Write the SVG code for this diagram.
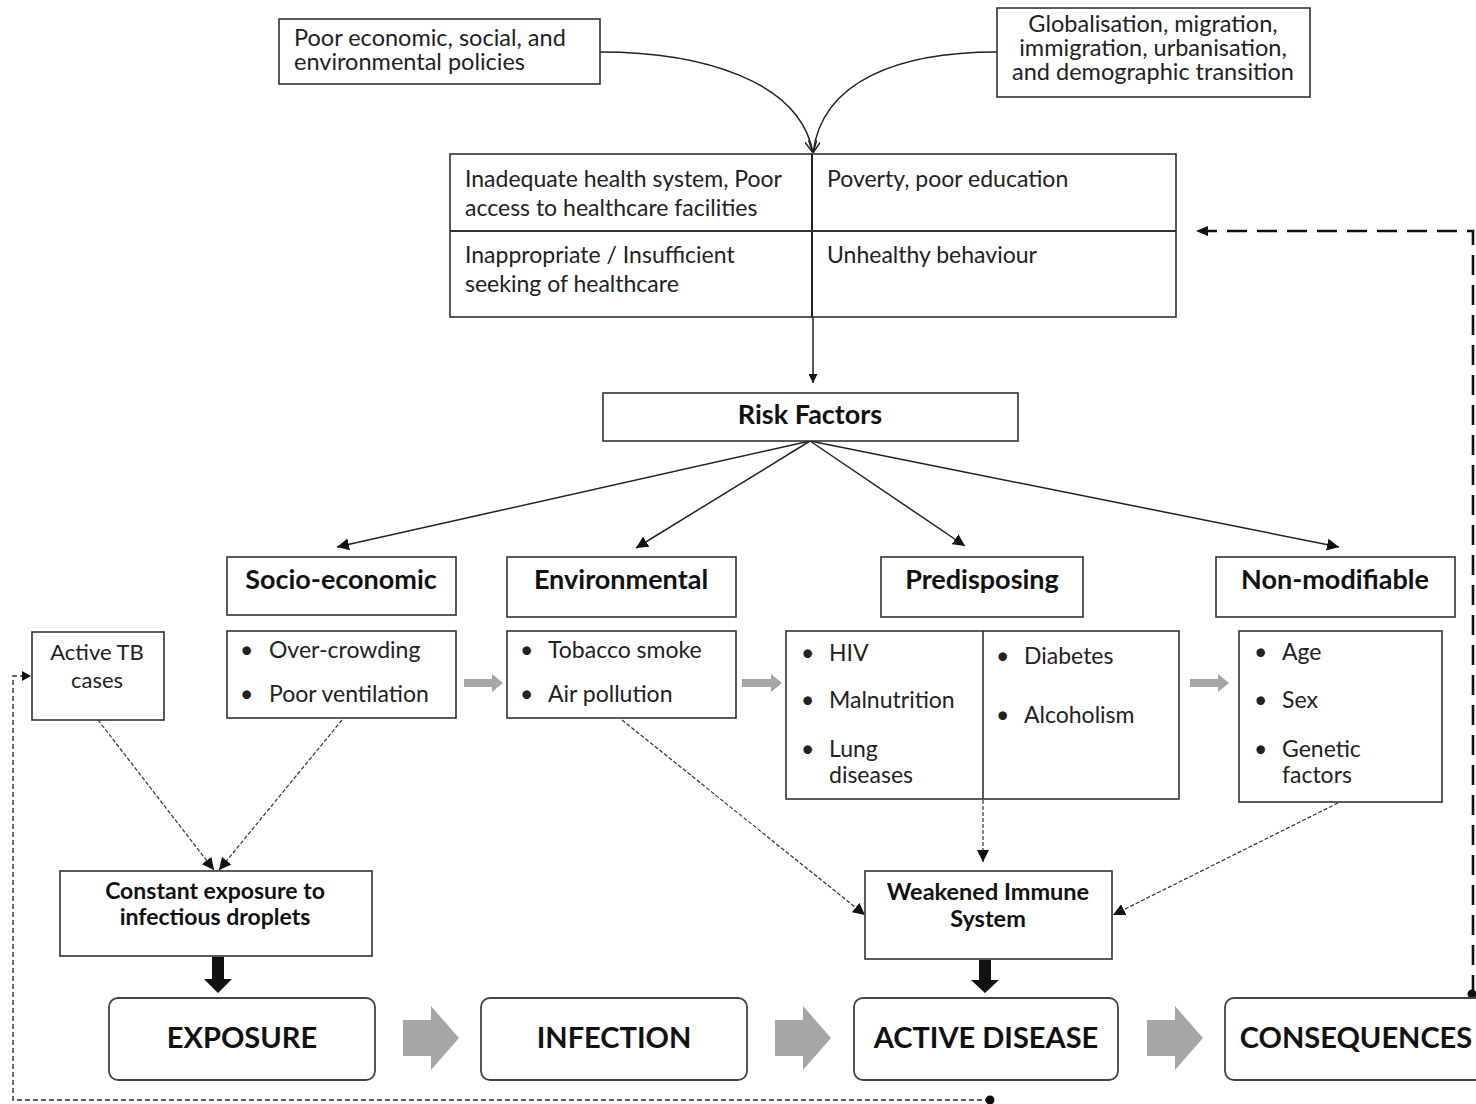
<svg xmlns="http://www.w3.org/2000/svg" width="1476" height="1104" viewBox="0 0 1476 1104">
  <style>
    .box { fill: #fff; stroke: #333; stroke-width: 1.6; }
    .rbox { fill: #fff; stroke: #444; stroke-width: 1.8; }
    .t { font-family: Lato, "Open Sans", sans-serif; font-size: 23px; fill: #222; }
    .s { font-size: 22px; }
    .top { font-size: 23.5px; }
    .c { text-anchor: middle; }
    .b { font-weight: bold; fill: #111; }
    .cat { font-family: Lato, "Open Sans", sans-serif; font-size: 27px; font-weight: bold; fill: #111; text-anchor: middle; }
    .big { font-family: Lato, "Open Sans", sans-serif; font-size: 29px; font-weight: bold; fill: #111; text-anchor: middle; }
    .line { fill: none; stroke: #222; stroke-width: 1.5; }
    .dot { fill: none; stroke: #333; stroke-width: 1.2; stroke-dasharray: 4 2; }
    .gray { fill: #a6a6a6; }
  </style>
  <defs>
    <marker id="tri" viewBox="0 0 10 10" refX="10" refY="5" markerWidth="9" markerHeight="9" markerUnits="userSpaceOnUse" orient="auto">
      <path d="M0,0 L10,5 L0,10 z" fill="#111"/>
    </marker>
    <marker id="tri2" viewBox="0 0 10 10" refX="10" refY="5" markerWidth="12" markerHeight="12" markerUnits="userSpaceOnUse" orient="auto">
      <path d="M0,0 L10,5 L0,10 z" fill="#111"/>
    </marker>
    <marker id="vee" viewBox="0 0 10 10" refX="10" refY="5" markerWidth="12" markerHeight="12" markerUnits="userSpaceOnUse" orient="auto">
      <path d="M0,0 L10,5 L0,10" fill="none" stroke="#222" stroke-width="1.2"/>
    </marker>
  </defs>

  <!-- connectors -->
  <g id="connectors">
    <path class="line" d="M600,52 C700,52 800,80 813,153" marker-end="url(#vee)"/>
    <path class="line" d="M997,52 C900,52 822,80 813,153" marker-end="url(#vee)"/>
    <line class="line" x1="813" y1="317" x2="813" y2="383" marker-end="url(#tri)"/>
    <line class="line" x1="810" y1="441" x2="337" y2="547" marker-end="url(#tri2)"/>
    <line class="line" x1="810" y1="441" x2="636" y2="548" marker-end="url(#tri2)"/>
    <line class="line" x1="810" y1="441" x2="965" y2="546" marker-end="url(#tri2)"/>
    <line class="line" x1="810" y1="441" x2="1339" y2="547" marker-end="url(#tri2)"/>
    <!-- grey block arrows between factor boxes -->
    <path class="gray" d="M464,679 h28 v-5 l11,9 l-11,9 v-5 h-28 z"/>
    <path class="gray" d="M742,679 h29 v-5 l11,9 l-11,9 v-5 h-29 z"/>
    <path class="gray" d="M1190,679 h28 v-5 l11,9 l-11,9 v-5 h-28 z"/>
    <!-- dotted influence arrows -->
    <line class="dot" x1="98" y1="720" x2="214" y2="870" marker-end="url(#tri2)"/>
    <line class="dot" x1="342" y1="720" x2="219" y2="870" marker-end="url(#tri2)"/>
    <line class="dot" x1="622" y1="720" x2="865" y2="915" marker-end="url(#tri2)"/>
    <line class="dot" x1="983" y1="800" x2="983" y2="862" marker-end="url(#tri2)"/>
    <line class="dot" x1="1338" y1="803" x2="1113" y2="915" marker-end="url(#tri2)"/>
    <!-- thick black arrows -->
    <path d="M212,957 h12 v22 h8 l-14,14 l-14,-14 h8 z" fill="#111"/>
    <path d="M979,960 h12 v20 h8 l-14,13 l-14,-13 h8 z" fill="#111"/>
    <!-- grey block arrows between stages -->
    <path class="gray" d="M403,1020 h28 v-14 l28,32 l-28,32 v-14 h-28 z"/>
    <path class="gray" d="M775,1020 h28 v-14 l28,32 l-28,32 v-14 h-28 z"/>
    <path class="gray" d="M1147,1020 h28 v-14 l28,32 l-28,32 v-14 h-28 z"/>
    <!-- feedback loops -->
    <path d="M1473,995 V231 H1208" fill="none" stroke="#111" stroke-width="2.6" stroke-dasharray="20 10"/>
    <path d="M1196,231 l12,-5 v10 z" fill="#111"/>
    <circle cx="1472" cy="994" r="4.5" fill="#111"/>
    <path d="M990,1100 H13 V676 H23" fill="none" stroke="#333" stroke-width="1.4" stroke-dasharray="5 3"/>
    <path d="M31,676 l-9,-5 v10 z" fill="#111"/>
    <circle cx="990" cy="1100" r="4.5" fill="#111"/>
  </g>

  <g id="policies">
    <rect class="box" x="279" y="19" width="321" height="65"/>
    <text class="t top" x="294" y="46">Poor economic, social, and</text>
    <text class="t top" x="294" y="70">environmental policies</text>
  </g>

  <g id="globalisation">
    <rect class="box" x="997" y="8" width="313" height="89"/>
    <text class="t top c" x="1153" y="32">Globalisation, migration,</text>
    <text class="t top c" x="1153" y="56">immigration, urbanisation,</text>
    <text class="t top c" x="1153" y="80">and demographic transition</text>
  </g>

  <g id="determinants">
    <rect class="box" x="450" y="154" width="726" height="163" stroke-width="2"/>
    <line x1="812" y1="154" x2="812" y2="317" stroke="#222" stroke-width="2"/>
    <line x1="450" y1="231" x2="1176" y2="231" stroke="#333" stroke-width="2"/>
    <text class="t" x="465" y="187">Inadequate health system, Poor</text>
    <text class="t" x="465" y="216">access to healthcare facilities</text>
    <text class="t" x="827" y="187">Poverty, poor education</text>
    <text class="t" x="465" y="263">Inappropriate / Insufficient</text>
    <text class="t" x="465" y="292">seeking of healthcare</text>
    <text class="t" x="827" y="263">Unhealthy behaviour</text>
  </g>

  <g id="risk-factors">
    <rect class="box" x="603" y="393" width="415" height="48"/>
    <text class="cat" x="810" y="424">Risk Factors</text>
  </g>

  <g id="socio-economic">
    <rect class="box" x="227" y="557" width="229" height="58"/>
    <text class="cat" x="341" y="589">Socio-economic</text>
  </g>
  <g id="environmental">
    <rect class="box" x="507" y="557" width="229" height="60"/>
    <text class="cat" x="621" y="589">Environmental</text>
  </g>
  <g id="predisposing">
    <rect class="box" x="881" y="557" width="202" height="60"/>
    <text class="cat" x="982" y="589">Predisposing</text>
  </g>
  <g id="non-modifiable">
    <rect class="box" x="1216" y="557" width="239" height="60"/>
    <text class="cat" x="1335" y="589">Non-modifiable</text>
  </g>

  <g id="active-tb">
    <rect class="box" x="32" y="632" width="132" height="88"/>
    <text class="t s c" x="97" y="660">Active TB</text>
    <text class="t s c" x="97" y="688">cases</text>
  </g>

  <g id="socio-items">
    <rect class="box" x="227" y="631" width="229" height="87"/>
    <text class="t" x="240" y="658">•</text>
    <text class="t" x="269" y="658">Over-crowding</text>
    <text class="t" x="240" y="702">•</text>
    <text class="t" x="269" y="702">Poor ventilation</text>
  </g>

  <g id="env-items">
    <rect class="box" x="507" y="631" width="229" height="87"/>
    <text class="t" x="520" y="658">•</text>
    <text class="t" x="548" y="658">Tobacco smoke</text>
    <text class="t" x="520" y="702">•</text>
    <text class="t" x="548" y="702">Air pollution</text>
  </g>

  <g id="predisposing-items">
    <rect class="box" x="786" y="631" width="393" height="168"/>
    <line x1="983" y1="631" x2="983" y2="799" stroke="#333" stroke-width="1.6"/>
    <text class="t" x="801" y="661">•</text>
    <text class="t" x="829" y="661">HIV</text>
    <text class="t" x="801" y="708">•</text>
    <text class="t" x="829" y="708">Malnutrition</text>
    <text class="t" x="801" y="757">•</text>
    <text class="t" x="829" y="757">Lung</text>
    <text class="t" x="829" y="783">diseases</text>
    <text class="t" x="996" y="664">•</text>
    <text class="t" x="1024" y="664">Diabetes</text>
    <text class="t" x="996" y="723">•</text>
    <text class="t" x="1024" y="723">Alcoholism</text>
  </g>

  <g id="non-modifiable-items">
    <rect class="box" x="1239" y="631" width="203" height="171"/>
    <text class="t" x="1254" y="660">•</text>
    <text class="t" x="1282" y="660">Age</text>
    <text class="t" x="1254" y="708">•</text>
    <text class="t" x="1282" y="708">Sex</text>
    <text class="t" x="1254" y="757">•</text>
    <text class="t" x="1282" y="757">Genetic</text>
    <text class="t" x="1282" y="783">factors</text>
  </g>

  <g id="constant-exposure">
    <rect class="box" x="60" y="871" width="312" height="85"/>
    <text class="t c b" x="215" y="899">Constant exposure to</text>
    <text class="t c b" x="215" y="925">infectious droplets</text>
  </g>

  <g id="weakened-immune">
    <rect class="box" x="865" y="871" width="247" height="88"/>
    <text class="t top c b" x="988" y="900">Weakened Immune</text>
    <text class="t top c b" x="988" y="927">System</text>
  </g>

  <g id="exposure">
    <rect class="rbox" x="109" y="998" width="266" height="82" rx="9"/>
    <text class="big" x="242" y="1048">EXPOSURE</text>
  </g>
  <g id="infection">
    <rect class="rbox" x="481" y="998" width="266" height="82" rx="9"/>
    <text class="big" x="614" y="1048">INFECTION</text>
  </g>
  <g id="active-disease">
    <rect class="rbox" x="854" y="998" width="264" height="82" rx="9"/>
    <text class="big" x="986" y="1048">ACTIVE DISEASE</text>
  </g>
  <g id="consequences">
    <rect class="rbox" x="1225" y="998" width="270" height="82" rx="9"/>
    <text class="big" x="1356" y="1048">CONSEQUENCES</text>
  </g>
</svg>
